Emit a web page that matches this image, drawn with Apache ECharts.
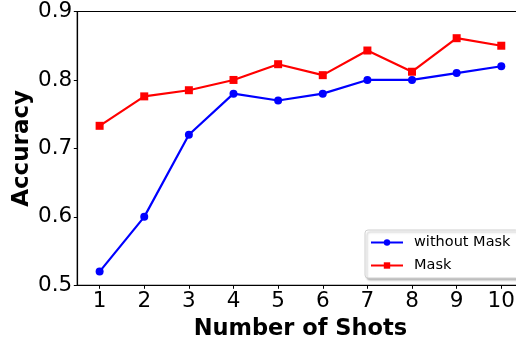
<!DOCTYPE html>
<html>
<head>
<meta charset="utf-8">
<script src="https://cdn.jsdelivr.net/npm/echarts@6/dist/echarts.min.js"></script>
<style>
  html, body { margin: 0; padding: 0; background: #fff; }
  #chart { width: 516px; height: 343px; }
</style>
</head>
<body>
<div id="chart"></div>
<script>
// Accuracy versus number of shots, with and without the mask
const shots = ['1', '2', '3', '4', '5', '6', '7', '8', '9', '10'];
const withoutMask = [0.52, 0.60, 0.72, 0.78, 0.77, 0.78, 0.80, 0.80, 0.81, 0.82];
const withMask = [0.733, 0.776, 0.785, 0.800, 0.823, 0.807, 0.843, 0.812, 0.861, 0.850];
const yTicks = { min: 0.5, max: 0.9, step: 0.1 };

const FONT = 'DejaVu Sans';
const chart = echarts.init(document.getElementById('chart'), null, { renderer: 'canvas' });

chart.setOption({
  animation: false,
  backgroundColor: '#ffffff',
  grid: {
    left: 77.3, top: 11.5, right: -7.6, bottom: 57.7,
    containLabel: false,
    outerBoundsMode: 'none',
    show: true, borderColor: '#000', borderWidth: 1.2, backgroundColor: 'transparent'
  },
  xAxis: {
    type: 'category',
    data: shots,
    boundaryGap: true,
    name: 'Number of Shots',
    nameLocation: 'middle',
    nameGap: 32,
    nameMoveOverlap: false,
    nameTextStyle: { fontFamily: FONT, fontSize: 22.5, fontWeight: 'bold', color: '#000' },
    axisLine: { show: true, lineStyle: { color: '#000', width: 1.2 } },
    axisTick: { show: true, alignWithLabel: true, length: 3.5, lineStyle: { color: '#000', width: 1 } },
    axisLabel: { fontFamily: FONT, fontSize: 21.5, color: '#000', margin: 5 },
    splitLine: { show: false }
  },
  yAxis: {
    type: 'value',
    min: yTicks.min,
    max: yTicks.max,
    interval: yTicks.step,
    name: 'Accuracy',
    nameLocation: 'middle',
    nameGap: 44,
    nameMoveOverlap: false,
    nameTextStyle: { fontFamily: FONT, fontSize: 23, fontWeight: 'bold', color: '#000' },
    axisLine: { show: true, lineStyle: { color: '#000', width: 1.2 } },
    axisTick: { show: true, length: 3.5, lineStyle: { color: '#000', width: 1 } },
    axisLabel: {
      fontFamily: FONT, fontSize: 21.5, color: '#000', margin: 5,
      formatter: v => v.toFixed(1)
    },
    splitLine: { show: false }
  },
  legend: {
    orient: 'vertical',
    left: 365,
    top: 230,
    padding: [5, 8, 5, 5],
    itemGap: 8,
    itemWidth: 32,
    itemHeight: 8,
    backgroundColor: '#fff',
    borderColor: '#d0d0d0',
    borderWidth: 1,
    borderRadius: 3,
    shadowColor: 'rgba(0,0,0,0.25)',
    shadowBlur: 2,
    shadowOffsetX: 2,
    shadowOffsetY: 2,
    textStyle: { fontFamily: FONT, fontSize: 14.5, color: '#000', padding: [0, 0, 0, 6] },
    data: ['without Mask', 'Mask']
  },
  series: [
    {
      name: 'without Mask',
      type: 'line',
      data: withoutMask,
      symbol: 'circle',
      symbolSize: 8,
      lineStyle: { color: '#0000ff', width: 2.2 },
      itemStyle: { color: '#0000ff' },
      z: 2
    },
    {
      name: 'Mask',
      type: 'line',
      data: withMask,
      symbol: 'rect',
      symbolSize: 8,
      lineStyle: { color: '#ff0000', width: 2.2 },
      itemStyle: { color: '#ff0000' },
      z: 3
    }
  ]
});
</script>
</body>
</html>
